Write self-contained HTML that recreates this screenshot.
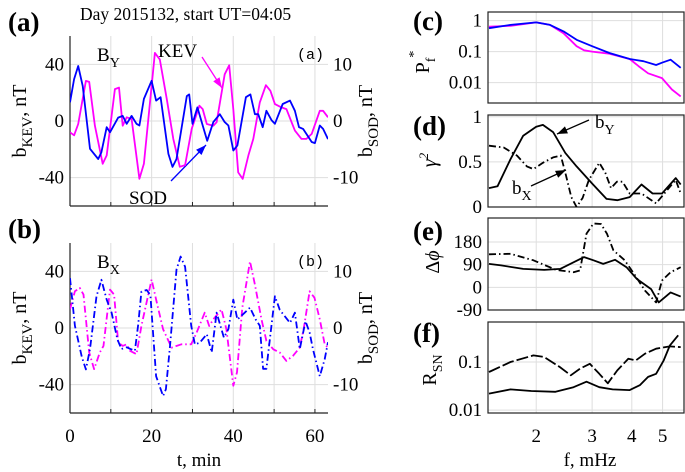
<!DOCTYPE html>
<html><head><meta charset="utf-8"><style>
html,body{margin:0;padding:0;background:#fff}
svg{display:block;font-family:"Liberation Serif",serif}
</style></head><body>
<svg id="chart" width="685" height="472" viewBox="0 0 685 472" xmlns="http://www.w3.org/2000/svg">
<text x="80" y="20" font-size="17.5">Day 2015132, start UT=04:05</text>
</svg>
<script>
// ---------- data ----------
const keyTimeA = [0,1,2,3.9,4.7,6.1,8,9,11,12,12.9,13.9,15.1,17,18.1,20.8,22,23.7,25.3,26.9,28.2,29.8,31.7,32.5,33.5,35.1,35.9,37.9,39,40,41.2,42.3,43.7,44.9,46.5,48,49.1,50.2,51.8,53,55.1,56.7,57.9,59.2,61.2,62,63.2];
const kevA = [-8,-10.1,-2.1,28.3,27.6,-3.3,-30.2,-24.3,22.5,23.6,-3.3,2.6,1.4,-40.8,-30.2,48.1,43.5,15.4,-12.6,-32.3,-31.1,-5.6,10.8,8.4,-2.1,-3.3,-0.9,33,39.3,8.4,-36.3,-40.9,-24.3,-12.6,13.1,25.3,21.3,11.9,9.6,8.4,-6.8,-12.6,-12.6,-9.1,7.2,7.2,2.6];
const sodTimeA = [0,1,2,3.1,4.9,6.9,7.7,9,9.8,11.8,12.9,13.9,15.1,16.3,17,18.1,20,21.1,22.2,24.1,25.1,26.1,28.6,29.2,30,31.2,33.6,35.1,36.7,37.9,38.8,40,41,43.1,44.2,45.3,46.1,47.2,48.1,49.4,50.2,52.1,53.9,55.1,56.1,57.1,59.2,60,61.2,62,63.2];
const sodA = [3.3,7.4,9.7,6.2,-4.9,-6.7,-5.5,-1.1,-2,0.6,0.9,-0.5,0.9,-0.5,-0.8,3.9,7.1,3.6,4.2,-5.8,-8.1,-6.7,4.4,4.7,-0.5,2.4,-3.5,-0.2,1.2,-0.2,-0.8,-5.2,-4.3,4.2,4.7,1.2,1.2,-1.1,1.8,0.1,-0.5,3,3.6,1.8,-1.1,-1.4,-3.7,-3.9,-0.8,-1.4,-3.2];
const keyTimeB = [0,1.2,2.4,3.3,4.7,5.9,7.3,8.2,9.8,10.8,11.8,12.9,13.9,14.7,16.3,17.5,20,21.1,22.8,24.9,27.3,29.7,31,33,34.1,35.1,37.1,38.3,40,40.9,42.2,44.1,45.3,46.9,48.1,49.8,51.4,53,54.6,56.3,57.3,58.7,59.9,61.2,62.4,63.2];
const kevB = [13.1,25.9,28.3,23.6,-17.3,-29,-17.3,-12.6,27.1,23.6,-10.3,-12.6,-11.5,-16.1,-18.5,1.4,34.2,20.1,-0.9,-13.8,-11.5,-11.5,-3.3,10.8,1.4,6.1,13.1,-0.9,-40.7,-31.3,14.3,47,30.6,6.1,-9.1,-15,-17.3,-23.2,-19.7,-13.8,0.2,25.9,21.3,6.1,-11.5,-13.8];
const sodTimeB = [0,1.2,2.9,3.9,4.9,6.5,7.7,9,10.2,11.6,12.6,13.9,14.8,15.9,16.7,17.5,18.8,19.7,21.1,22.8,23.5,24.5,26.1,27.1,28.2,29.7,30.6,31.8,33.5,34.7,35.9,37.7,38.8,40,41,42.8,44.1,45.5,46.5,47.3,48.1,50.2,51.4,53.9,55.1,56.3,57.7,58.7,59.5,61.2,62.4,63.2];
const sodB = [8.8,0.4,-5.1,-7.3,-3.7,5.6,8.5,5,2.7,-2,-3.7,-3.4,-3.7,-4,0.6,6.4,6.7,5.8,-8.5,-12,-10.8,-3.2,10.3,12.6,10.8,0.4,-2.9,-2.6,-1.1,-4.3,2.7,-1.7,-0.2,5,1.5,2.7,3.6,1.5,0.4,-7.2,-7.2,5.6,3.2,0.9,2.7,-3.7,1.2,-0.8,-3.7,-8.5,-5.5,-2.5];
const tTicks = [0,20,40,60];
const bTicks = [40,0,-40];
const sodTicks = [10,0,-10];

const freqPY = [1.42,1.66,2,2.21,2.44,2.68,3,3.4,3.94,4.35,4.77,4.98,5.3,5.7];
const powY = [0.57,0.73,0.88,0.73,0.45,0.24,0.15,0.09,0.058,0.049,0.037,0.044,0.055,0.03];
const freqPX = [1.42,1.66,2,2.21,2.44,2.68,2.83,3,3.4,3.94,4.2,4.5,4.98,5.35,5.7];
const powX = [0.64,0.68,0.88,0.73,0.39,0.15,0.11,0.1,0.086,0.058,0.034,0.02,0.014,0.006,0.0036];
const freqCoh = [1.42,1.51,1.66,1.82,2,2.1,2.26,2.47,2.68,3,3.33,3.6,3.94,4.29,4.65,4.98,5.5,5.7];
const cohY = [0.21,0.23,0.53,0.79,0.89,0.91,0.83,0.6,0.45,0.26,0.09,0.075,0.11,0.25,0.15,0.15,0.32,0.25];
const freqCohX = [1.42,1.58,1.74,1.87,1.96,2.1,2.26,2.39,2.47,2.58,2.68,2.8,2.93,3.16,3.3,3.44,3.59,3.74,3.94,4.29,4.77,5.5,5.7];
const cohX = [0.68,0.66,0.57,0.45,0.42,0.49,0.55,0.57,0.38,0.11,0,0.1,0.3,0.49,0.38,0.21,0.28,0.28,0.15,0.15,0.04,0.3,0.15];
const freqPh = [1.42,1.55,1.82,2.12,2.38,2.63,2.83,3.03,3.25,3.54,3.85,4.15,4.6,4.86,5.3,5.7];
const phaseY = [93,87,73,69,73,100,120,107,93,109,80,33,-7,-60,-20,-37];
const freqPhX = [1.42,1.66,1.96,2.31,2.62,2.75,2.88,3.03,3.2,3.34,3.5,3.8,4.1,4.4,4.77,4.98,5.3,5.7];
const phaseX = [131,133,107,69,60,67,213,253,251,213,147,107,47,-13,-60,27,60,80];
const freqSNd = [1.42,1.66,1.96,2.12,2.37,2.57,2.75,2.95,3.16,3.36,3.6,3.9,4.12,4.4,4.77,5.27,5.7];
const snrX = [0.062,0.1,0.137,0.127,0.079,0.053,0.073,0.092,0.057,0.036,0.067,0.117,0.108,0.149,0.189,0.211,0.204];
const freqSNs = [1.42,1.66,1.93,2.3,2.62,2.88,3.16,3.48,3.94,4.24,4.5,4.77,5.04,5.27,5.6];
const snrY = [0.022,0.027,0.025,0.024,0.03,0.039,0.03,0.027,0.026,0.033,0.049,0.057,0.108,0.22,0.36];
const fTicks = [2,3,4,5];

// ---------- helpers ----------
const NS = "http://www.w3.org/2000/svg";
const svg = document.getElementById('chart');
const TF = 19;
function mk(tag, attrs, parent) {
  const e = document.createElementNS(NS, tag);
  for (const k in attrs) e.setAttribute(k, attrs[k]);
  (parent || svg).appendChild(e);
  return e;
}
function txt(x, y, s, size, anchor, parent) {
  const t = mk('text', {x: x, y: y, 'font-size': size, 'text-anchor': anchor || 'start'}, parent);
  t.textContent = s;
  return t;
}
function linScale(d0, d1, r0, r1) { return v => r0 + (v - d0) / (d1 - d0) * (r1 - r0); }
function logScale(d0, d1, r0, r1) { return v => r0 + (Math.log(v) - Math.log(d0)) / (Math.log(d1) - Math.log(d0)) * (r1 - r0); }
function pathD(xs, ys, sx, sy) {
  return xs.map((x, i) => (i ? 'L' : 'M') + sx(x).toFixed(1) + ',' + sy(ys[i]).toFixed(1)).join(' ');
}
function series(xs, ys, sx, sy, color, dash, name, clipId) {
  const p = mk('path', {d: pathD(xs, ys, sx, sy), fill: 'none', stroke: color, 'stroke-width': 1.8, 'stroke-dasharray': dash || 'none', 'stroke-linejoin': 'round', 'clip-path': 'url(#' + clipId + ')'});
  
  
  return p;
}
const defs = mk('defs', {});
function clip(id, x0, y0, x1, y1) {
  const c = mk('clipPath', {id: id}, defs);
  mk('rect', {x: x0, y: y0, width: x1 - x0, height: y1 - y0}, c);
}
function arrowHead(x1, y1, x2, y2, color, g) {
  const a = Math.atan2(y2 - y1, x2 - x1), L = 11, w = 0.35;
  const p = [x2, y2, x2 - L * Math.cos(a - w), y2 - L * Math.sin(a - w), x2 - L * Math.cos(a + w), y2 - L * Math.sin(a + w)];
  mk('polygon', {points: p.join(','), fill: color}, g);
  mk('line', {x1: x1, y1: y1, x2: x2, y2: y2, stroke: color, 'stroke-width': 1.3}, g);
}
const GRID = '#dedede';

// ---------- left panels ----------
function timePanel(id, top, bottom, keyT, kev, sodT, sod, dash, panelLbl, compLbl, showX) {
  const X0 = 70, X1 = 328;
  const sx = linScale(0, 63.2, X0, X1);
  const sy = linScale(-60, 60, bottom, top);
  const sy2 = linScale(-15, 15, bottom, top);
  const g = mk('g', {});
  
  
  clip('clip-' + id, X0, top, X1, bottom);
  for (let t = 10; t <= 60; t += 10) mk('line', {x1: sx(t), x2: sx(t), y1: top, y2: bottom, stroke: GRID, 'stroke-width': 1}, g);
  bTicks.forEach(v => mk('line', {x1: X0, x2: X1, y1: sy(v), y2: sy(v), stroke: GRID, 'stroke-width': 1}, g));
  series(keyT, kev, sx, sy, '#ff00ff', dash, 'kev-series-' + id, 'clip-' + id);
  series(sodT, sod, sx, sy2, '#0000ff', dash, 'sod-series-' + id, 'clip-' + id);
  mk('line', {x1: X0, x2: X0, y1: top, y2: bottom, stroke: '#222', 'stroke-width': 1.2}, g);
  mk('line', {x1: X0, x2: X1, y1: bottom, y2: bottom, stroke: '#222', 'stroke-width': 1.2}, g);
  for (let t = 0; t <= 60; t += 10) mk('line', {x1: sx(t), x2: sx(t), y1: bottom, y2: bottom - 4, stroke: '#222'}, g);
  bTicks.forEach(v => txt(X0 - 6, sy(v) + 6, String(v), TF, 'end', g));
  sodTicks.forEach(v => txt(X1 + 5, sy2(v) + 6, String(v), TF, 'start', g));
  if (showX) {
    tTicks.forEach(v => txt(sx(v), 442, String(v), TF, 'middle', g));
  }
  const mid = (top + bottom) / 2;
  const yl = mk('text', {x: 0, y: 0, 'font-size': 20, 'text-anchor': 'middle', transform: 'translate(26,' + mid + ') rotate(-90)'}, g);
  
  
  yl.innerHTML = 'b<tspan font-size="15" dy="6">KEV</tspan><tspan dy="-6">, nT</tspan>';
  const yr = mk('text', {x: 0, y: 0, 'font-size': 20, 'text-anchor': 'middle', transform: 'translate(372,' + mid + ') rotate(-90)'}, g);
  
  
  yr.innerHTML = 'b<tspan font-size="15" dy="6">SOD</tspan><tspan dy="-6">, nT</tspan>';
  const pl = txt(8, top - 5, panelLbl, 27, 'start', g);
  pl.setAttribute('font-weight', 'bold');
  
  
  const ml = txt(X1 - 4, top + 23, panelLbl, 15, 'end', g);
  ml.setAttribute('font-family', '"Liberation Mono", monospace');
  const cl = mk('text', {x: 97, y: top + 25, 'font-size': 19}, g);
  
  
  cl.innerHTML = 'B<tspan font-size="14" dy="6">' + compLbl + '</tspan>';
  return g;
}
const ga = timePanel('a', 36, 206, keyTimeA, kevA, sodTimeA, sodA, null, '(a)', 'Y', false);
const gb = timePanel('b', 243, 413, keyTimeB, kevB, sodTimeB, sodB, '7,3,1.5,3', '(b)', 'X', true);
const xt = txt(199, 466, 't, min', 19, 'middle');


// annotations panel a
const kevL = txt(158, 57, 'KEV', 19, 'start', ga);


arrowHead(202, 57, 222, 88, '#ff00ff', ga);
const sodL = txt(129, 204, 'SOD', 19, 'start', ga);


arrowHead(171, 181, 206, 145, '#0000ff', ga);

// ---------- right panels ----------
const FX0 = 488, FX1 = 684;
const sf = logScale(1.41, 5.84, FX0, FX1);
function freqFrame(id, top, bottom, sy, ticks, fmt, lbl, lblY) {
  const g = mk('g', {});
  
  
  clip('clip-' + id, FX0, top, FX1, bottom);
  fTicks.forEach(f => mk('line', {x1: sf(f), x2: sf(f), y1: top, y2: bottom, stroke: GRID}, g));
  ticks.forEach(v => mk('line', {x1: FX0, x2: FX1, y1: sy(v), y2: sy(v), stroke: GRID}, g));
  mk('rect', {x: FX0, y: top, width: FX1 - FX0, height: bottom - top, fill: 'none', stroke: '#222', 'stroke-width': 1.2}, g);
  ticks.forEach(v => txt(FX0 - 6, sy(v) + 6, fmt(v), TF, 'end', g));
  const pl = txt(413, lblY, lbl, 27, 'start', g);
  pl.setAttribute('font-weight', 'bold');
  
  
  return g;
}
// (c)
const syc = logScale(0.0022, 1.9, 103, 12);
const gc = freqFrame('c', 12, 103, syc, [1, 0.1, 0.01], v => String(v), '(c)', 30);
series(freqPX, powX, sf, syc, '#ff00ff', null, 'power-x-series', 'clip-c');
series(freqPY, powY, sf, syc, '#0000ff', null, 'power-y-series', 'clip-c');
const cy = mk('text', {x: 0, y: 0, 'font-size': 20, 'text-anchor': 'middle', transform: 'translate(429,62) rotate(-90)'}, gc);


cy.innerHTML = 'P<tspan font-size="14" dy="6">f</tspan><tspan font-size="14" dy="-17">*</tspan>';
// (d)
const syd = linScale(0, 1.02, 207, 115);
const gd = freqFrame('d', 115, 207, syd, [1, 0.5, 0], v => String(v), '(d)', 135);
series(freqCoh, cohY, sf, syd, '#000', null, 'coherence-by-series', 'clip-d');
series(freqCohX, cohX, sf, syd, '#000', '7,3,1.5,3', 'coherence-bx-series', 'clip-d');
const dy = mk('text', {x: 0, y: 0, 'font-size': 20, 'font-style': 'italic', 'text-anchor': 'middle', transform: 'translate(436,160) rotate(-90)'}, gd);


dy.innerHTML = 'γ<tspan font-size="13" dy="-8">2</tspan>';
const byL = mk('text', {x: 595, y: 128, 'font-size': 19}, gd);


byL.innerHTML = 'b<tspan font-size="14" dy="6">Y</tspan>';
arrowHead(589, 120, 557, 134, '#000', gd);
const bxL = mk('text', {x: 512, y: 194, 'font-size': 19}, gd);


bxL.innerHTML = 'b<tspan font-size="14" dy="6">X</tspan>';
arrowHead(531, 186, 566, 170, '#000', gd);
// (e)
const sye = linScale(-90, 275, 310, 218);
const ge = freqFrame('e', 218, 310, sye, [180, 90, 0, -90], v => String(v), '(e)', 240);
series(freqPh, phaseY, sf, sye, '#000', null, 'phase-by-series', 'clip-e');
series(freqPhX, phaseX, sf, sye, '#000', '7,3,1.5,3', 'phase-bx-series', 'clip-e');
const ey = mk('text', {x: 0, y: 0, 'font-size': 20, 'text-anchor': 'middle', transform: 'translate(439,262) rotate(-90)'}, ge);


ey.innerHTML = 'Δ<tspan font-style="italic">ϕ</tspan>';
// (f)
const syf = logScale(0.0087, 0.68, 413, 322);
const gf = freqFrame('f', 322, 413, syf, [0.1, 0.01], v => String(v), '(f)', 342);
series(freqSNd, snrX, sf, syf, '#000', '12,3', 'snr-bx-series', 'clip-f');
series(freqSNs, snrY, sf, syf, '#000', null, 'snr-by-series', 'clip-f');
const fy = mk('text', {x: 0, y: 0, 'font-size': 20, 'text-anchor': 'middle', transform: 'translate(436,370) rotate(-90)'}, gf);


fy.innerHTML = 'R<tspan font-size="14" dy="6">SN</tspan>';
fTicks.forEach(f => txt(sf(f), 442, String(f), TF, 'middle'));
const fx = txt(590, 466, 'f, mHz', 19, 'middle');


</script>
</body></html>
